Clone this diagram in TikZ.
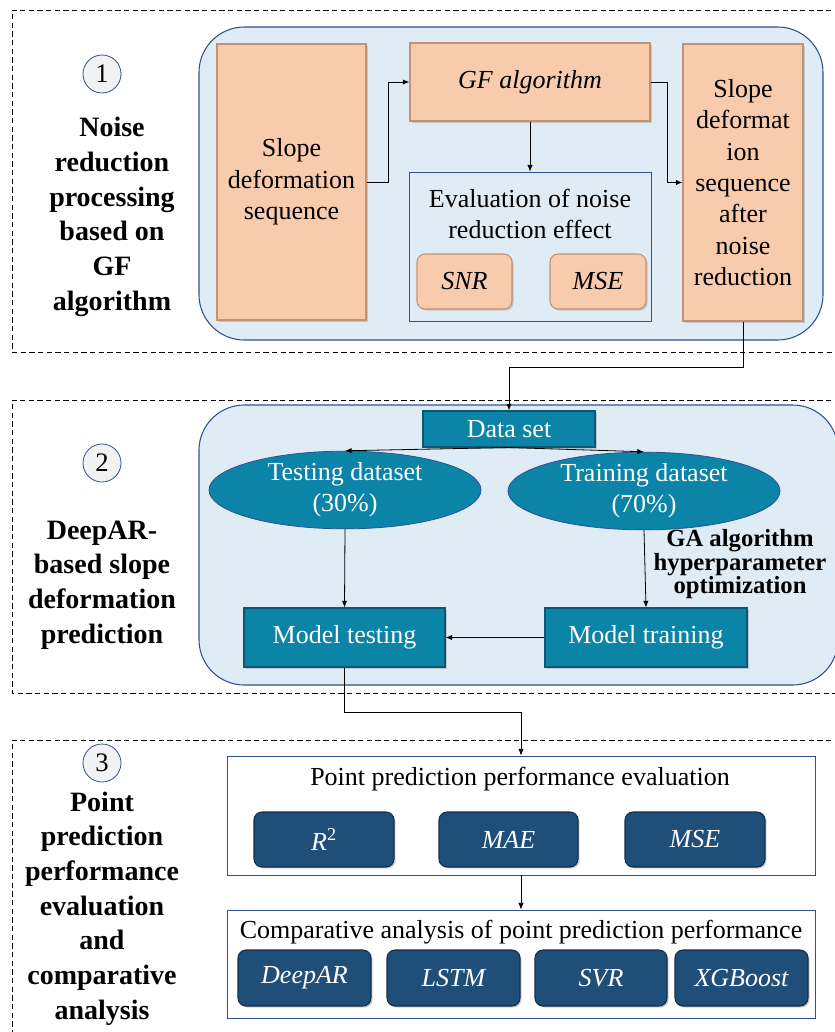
\documentclass[tikz,border=0pt]{standalone}
\usepackage{fontspec}
\setmainfont{Liberation Serif}[BoldFont={Liberation Serif Bold},ItalicFont={Liberation Serif Italic},BoldItalicFont={Liberation Serif Bold Italic}]
\usetikzlibrary{arrows.meta,shapes.geometric,shadows}

\definecolor{orangefill}{RGB}{248,203,173}
\definecolor{orangeline}{RGB}{196,146,112}
\definecolor{panelfill}{RGB}{223,236,246}
\definecolor{panelline}{RGB}{47,82,143}
\definecolor{tealfill}{RGB}{12,132,168}
\definecolor{tealline}{RGB}{8,88,118}
\definecolor{navyfill}{RGB}{31,78,121}
\definecolor{navyline}{RGB}{18,46,74}
\definecolor{circfill}{RGB}{242,242,242}

\tikzset{every picture/.style={line width=0.6pt},
  boxtext/.style={font=\fontsize{19.5}{23.5}\selectfont, align=center, inner sep=0pt},
  sectiontext/.style={font=\fontsize{21}{26}\selectfont\bfseries, align=center, inner sep=0pt},
  orangebox/.style={boxtext, draw=orangeline, fill=orangefill, line width=0.8pt,
    drop shadow={shadow xshift=1.2pt, shadow yshift=-1.2pt, opacity=0.35}},
  orangebtn/.style={orangebox, rounded corners=6pt, font=\fontsize{19.5}{23.5}\selectfont\itshape},
  tealbox/.style={boxtext, draw=tealline, fill=tealfill, text=white, line width=0.8pt,
    drop shadow={shadow xshift=1.2pt, shadow yshift=-1.2pt, opacity=0.35}},
  tealoval/.style={boxtext, ellipse, draw=panelline, fill=tealfill, text=white},
  navybtn/.style={boxtext, draw=navyline, fill=navyfill, text=white, rounded corners=6pt,
    font=\fontsize{19.5}{23.5}\selectfont\itshape, line width=0.8pt,
    drop shadow={shadow xshift=1.2pt, shadow yshift=-1.2pt, opacity=0.35}},
  framebox/.style={draw=panelline, line width=0.6pt},
  panel/.style={draw=panelline, fill=panelfill, rounded corners=34pt, line width=0.8pt},
  stagecirc/.style={circle, draw=panelline, fill=circfill, minimum size=28.5pt, inner sep=0pt,
    font=\fontsize{20}{24}\selectfont},
  section/.style={dash pattern=on 4pt off 2.5pt, line width=0.6pt},
  arr/.style={-{Latex[length=5pt,width=4pt]}, line width=0.6pt}
}

\begin{document}
\begin{tikzpicture}[x=0.75pt,y=0.75pt,yscale=-1,xscale=1]
\clip (0,0) rectangle (835,1032);
\fill[white] (0,0) rectangle (835,1032);

%Dashed sections
\draw[section] (840,10) -- (12,10) -- (12,352) -- (840,352) ;
\draw[section] (840,400) -- (12,400) -- (12,693) -- (840,693) ;
\draw[section] (840,740) -- (12,740) -- (12,1040) ;

%Rounded panels
\draw[panel] (199,27) rectangle (823,340) ;
\draw[panel] (199,405) rectangle (838,685) ;

%Stage 1
\node[stagecirc] (c1) at (102,74) {1};
\node[sectiontext] (lab1) at (112,217) {Noise\\reduction\\processing\\based on\\GF\\algorithm};
\node[orangebox, minimum width=111.75pt, minimum height=207pt] (seq) at (291.5,182) {Slope\\deformation\\sequence};
\node[orangebox, minimum width=180pt, minimum height=58.5pt, font=\fontsize{19.5}{23.5}\selectfont\itshape] (gf) at (530,82) {GF algorithm};
\node[framebox, minimum width=181.5pt, minimum height=111.75pt] (evalbox) at (530,246.5) {};
\node[boxtext] (evaltitle) at (530,214) {Evaluation of noise\\reduction effect};
\node[orangebtn, minimum width=71.25pt, minimum height=41.25pt] (snr) at (464.5,281.5) {SNR};
\node[orangebtn, minimum width=72pt, minimum height=41.25pt] (mseone) at (598,281.5) {MSE};
\node[orangebox, minimum width=90pt, minimum height=207.75pt] (after) at (743,182.5) {Slope\\deformat\\ion\\sequence\\after\\noise\\reduction};

\draw[arr] (seq.east) -- (388,182) |- (gf.west) ;
\draw[arr] (gf.south) -- (evalbox.north) ;
\draw[arr] (gf.east) -- (667,82) |- (after.west) ;

%Stage 2
\node[stagecirc] (c2) at (102,463) {2};
\node[sectiontext] (lab2) at (102,585) {DeepAR-\\based slope\\deformation\\prediction};
\node[tealbox, minimum width=129pt, minimum height=27pt] (data) at (509,429) {Data set};
\node[tealoval, minimum width=204pt, minimum height=45pt] (testing) at (345,490) {Testing dataset\\(30\%)};
\node[tealoval, minimum width=204pt, minimum height=46.5pt] (training) at (644,491) {Training dataset\\(70\%)};
\node[tealbox, minimum width=150.75pt, minimum height=44.25pt] (mtest) at (344.5,637.5) {Model testing};
\node[tealbox, minimum width=151.5pt, minimum height=44.25pt] (mtrain) at (646,637.5) {Model training};
\node[font=\fontsize{18.5}{16.5}\selectfont\bfseries, align=center, inner sep=0pt] (ga) at (740,564) {GA algorithm\\hyperparameter\\optimization};

\draw[arr] (after.south) -- (743,367) -| (data.north) ;
\draw[arr] (data.south) -- (testing.north) ;
\draw[arr] (data.south) -- (training.north) ;
\draw[arr] (testing.south) -- (mtest.north) ;
\draw[arr] (training.south) -- (mtrain.north) ;
\draw[arr] (mtrain.west) -- (mtest.east) ;

%Stage 3
\node[stagecirc] (c3) at (102,763) {3};
\node[sectiontext] (lab3) at (102,908.5) {Point\\prediction\\performance\\evaluation\\and\\comparative\\analysis};
\node[framebox, minimum width=441pt, minimum height=89.25pt] (pointbox) at (521,815.5) {};
\node[boxtext] (pointtitle) at (520,779) {Point prediction performance evaluation};
\node[navybtn, minimum width=105pt, minimum height=41.25pt] (rsq) at (324,839.5) {R\textsuperscript{\upshape 2}};
\node[navybtn, minimum width=104.25pt, minimum height=41.25pt] (mae) at (508.5,839.5) {MAE};
\node[navybtn, minimum width=105pt, minimum height=41.25pt] (msetwo) at (695,839.5) {MSE};
\node[framebox, minimum width=441pt, minimum height=81pt] (compbox) at (521,964) {};
\node[boxtext] (comptitle) at (521,932) {Comparative analysis of point prediction performance};
\node[navybtn, minimum width=99.75pt, minimum height=42pt] (deepar) at (304.5,978) {DeepAR};
\node[navybtn, minimum width=99.75pt, minimum height=42pt] (lstm) at (453.5,978) {LSTM};
\node[navybtn, minimum width=99pt, minimum height=42pt] (svr) at (601,978) {SVR};
\node[navybtn, minimum width=99.75pt, minimum height=42pt] (xgb) at (741.5,978) {XGBoost};

\draw[arr] (mtest.south) -- (344.5,712) -| (pointbox.north) ;
\draw[arr] (pointbox.south) -- (compbox.north) ;

\end{tikzpicture}
\end{document}
